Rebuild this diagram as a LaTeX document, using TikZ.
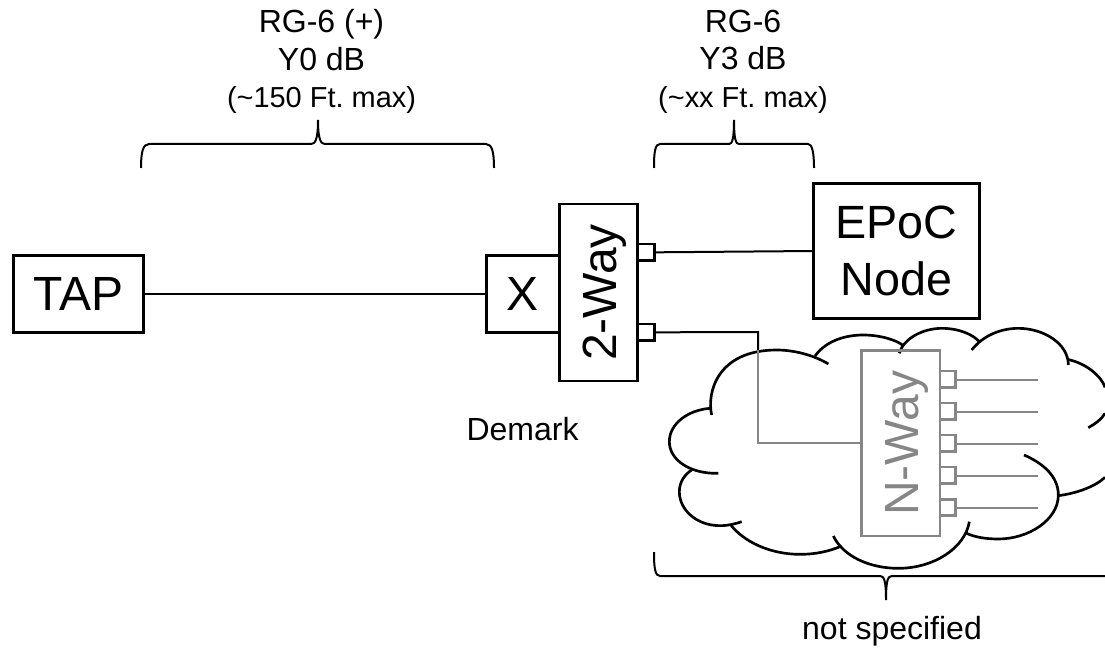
\documentclass[tikz,border=0pt]{standalone}
\usepackage{fontspec}
\setmainfont{Liberation Sans}
\frenchspacing
\definecolor{grayline}{HTML}{868686}
\newcommand{\bigfont}{\fontsize{36}{43}\selectfont}
\newcommand{\smallfont}{\fontsize{24}{28}\selectfont}
\newcommand{\lengthfont}{\fontsize{21.7}{28}\selectfont}
\tikzset{
  box/.style={draw=black,line width=2pt,inner sep=0pt,outer sep=0pt,anchor=north west,font=\bigfont},
  graybox/.style={box,draw=grayline,text=grayline},
  port/.style={draw=black,line width=2pt,inner sep=0pt,outer sep=0pt,anchor=north west,minimum width=12.75pt,minimum height=12.5pt},
  grayport/.style={port,draw=grayline,minimum width=11.8pt,minimum height=12.2pt},
  wire/.style={draw=black,line width=1.5pt},
  graywire/.style={draw=grayline,line width=1.5pt},
  lbl/.style={font=\smallfont,align=center,inner sep=0pt},
  sidetext/.style={rotate=90,font=\bigfont,inner sep=0pt,anchor=base},
  brace/.style={draw=black,line width=1.5pt},
  cloudline/.style={draw=black,line width=2pt}
}
\begin{document}
\begin{tikzpicture}[x=0.75pt,y=-0.75pt]
\useasboundingbox (0,0) rectangle (1105,648);
\node[box,minimum width=97.2pt,minimum height=57.8pt] (tap) at (13.7,255.3) {TAP};
\node[box,minimum width=54.4pt,minimum height=57.8pt] (xbox) at (486.7,255.3) {X};
\node[box,minimum width=58.5pt,minimum height=132.75pt] (twoway) at (559.3,204) {};
\node[sidetext] (twowaytxt) at (616.7,292.5) {2-Way};
\node[box,minimum width=124.2pt,minimum height=101.5pt,align=center,font=\fontsize{35}{43}\selectfont] (epoc) at (813.7,183.3) {EPoC\\Node};
\node[port] (p1) at (637.3,244) {};
\node[port] (p2) at (637.3,324) {};
\draw[wire] (tap.east) -- (xbox.west);
\draw[wire] (p1.east) -- (epoc.west |- 0,251);
\coordinate (corner) at (758,332);
\coordinate (entry) at (758,350);
\draw[wire] (p2.east) -- (corner) -- (entry);
% cloud
\begin{scope}[shift={(640,300)},scale=1/3]
\draw[cloudline] (215,345) .. controls (200,280) and (230,150) .. (410,150) .. controls (470,150) and (530,170) .. (565,192);
\draw[cloudline] (525,168) .. controls (560,120) and (620,105) .. (670,105) .. controls (720,105) and (770,120) .. (790,137);
\draw[cloudline] (778,160) .. controls (790,115) and (850,85) .. (905,85) .. controls (960,85) and (1000,105) .. (1018,125);
\draw[cloudline] (995,150) .. controls (1030,105) and (1085,85) .. (1135,85) .. controls (1210,85) and (1285,130) .. (1285,195);
\draw[cloudline] (1282,178) .. controls (1340,190) and (1385,230) .. (1395,262);
\draw[cloudline] (1395,340) .. controls (1385,358) and (1365,372) .. (1345,383);
\draw[cloudline] (1152,465) .. controls (1210,490) and (1255,530) .. (1255,585) .. controls (1255,660) and (1165,717) .. (1075,717) .. controls (1040,717) and (1005,712) .. (980,700);
\draw[cloudline] (1255,587) .. controls (1310,580) and (1365,560) .. (1395,532);
\draw[cloudline] (988,665) .. controls (975,745) and (880,805) .. (775,805) .. controls (690,805) and (610,770) .. (580,708);
\draw[cloudline] (605,738) .. controls (565,755) and (525,763) .. (480,763) .. controls (390,763) and (310,725) .. (270,672);
\draw[cloudline] (305,665) .. controls (285,672) and (265,677) .. (240,677) .. controls (170,677) and (118,630) .. (118,575) .. controls (118,545) and (135,522) .. (158,508);
\draw[cloudline] (235,520) .. controls (150,522) and (88,480) .. (88,425) .. controls (88,370) and (145,330) .. (210,325);
\end{scope}
% N-way
\node[graybox,minimum width=58.7pt,minimum height=139pt] (nway) at (861.7,350.7) {};
\node[sidetext,text=grayline] (nwaytxt) at (918.5,443.3) {N-Way};
\node[grayport] (n1) at (940,371) {};
\node[grayport] (n2) at (940,403) {};
\node[grayport] (n3) at (940,435) {};
\node[grayport] (n4) at (940,467) {};
\node[grayport] (n5) at (940,499.5) {};
\coordinate (e1) at (1037.7,380);
\coordinate (e2) at (1037.7,411.7);
\coordinate (e3) at (1037.7,443.7);
\coordinate (e4) at (1037.7,475.7);
\coordinate (e5) at (1037.7,507.7);
\foreach \i in {1,...,5} \draw[graywire] (n\i.east |- e\i) -- (e\i);
\draw[graywire] (entry) -- (corner |- nway.west) -- (nway.west);
% braces
\draw[brace] (141,168) .. controls (141,152) and (143,144) .. (149,144) -- (311,144) .. controls (315,144) and (318,140) .. (318,120) .. controls (318,140) and (321,144) .. (325,144) -- (486,144) .. controls (492,144) and (494,152) .. (494,168);
\draw[brace] (654,168) .. controls (654,152) and (655,144) .. (660,144) -- (729,144) .. controls (732,144) and (734,140) .. (734,120) .. controls (734,140) and (736,144) .. (739,144) -- (808,144) .. controls (812,144) and (814,152) .. (814,168);
\draw[brace] (654,552) .. controls (654,568) and (655,576) .. (660,576) -- (880,576) .. controls (884,576) and (886,580) .. (886,600) .. controls (886,580) and (888,576) .. (892,576) -- (1105,576);
% labels
\node[lbl] (l1) at (321.5,61.5) {RG-6 (+)\\Y0 dB\\{\lengthfont(\textasciitilde150 Ft. max)}};
\node[lbl] (l2) at (743,61.5) {RG-6\\Y3 dB\\{\lengthfont(\textasciitilde xx Ft. max)}};
\node[lbl] (l3) at (522.5,429) {Demark};
\node[lbl] (l4) at (892,631) {not specified};
\end{tikzpicture}
\end{document}
